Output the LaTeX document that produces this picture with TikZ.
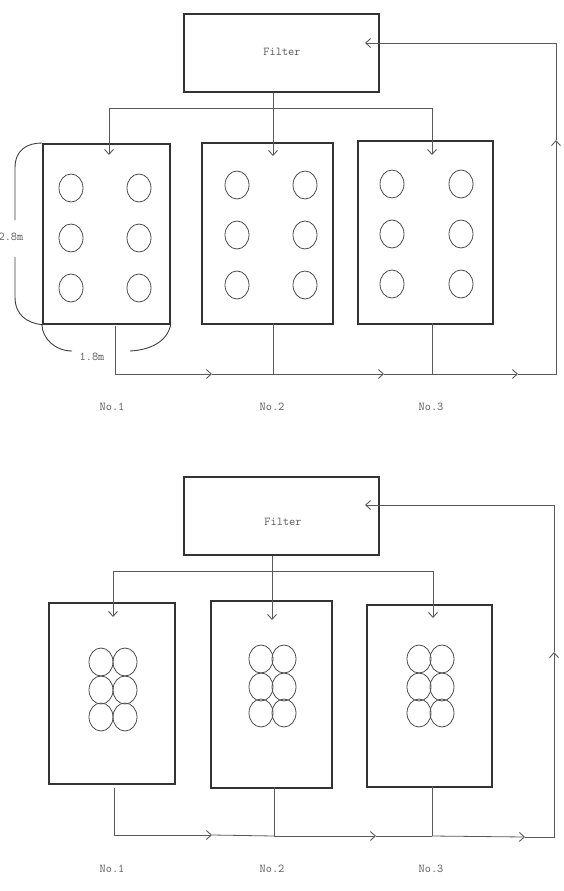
\documentclass[tikz,border=0pt]{standalone}
\usetikzlibrary{arrows.meta}
\begin{document}
\begin{tikzpicture}[x=1pt,y=-1pt,
  tank/.style={draw=black!80, line width=1.7pt, inner sep=0pt, anchor=north west},
  pipe/.style={draw=black!65, line width=0.8pt},
  arr/.style={pipe, -{Straight Barb[length=5pt,width=9pt,line width=0.9pt]}},
  hole/.style={draw=black!70, line width=0.8pt},
  dim/.style={draw=black!75, line width=0.9pt},
  lbl/.style={text=black!65, font=\fontsize{12}{14}\selectfont\ttfamily, inner sep=0pt}]
\useasboundingbox (0,0) rectangle (563,891);
\fill[white] (0,0) rectangle (563,891);

% ================= TOP SECTION =================
\node[tank, minimum width=195pt, minimum height=78pt] (F1) at (183,13) {};
\node[lbl] (F1t) at (282,52) {Filter};
\node[tank, minimum width=127pt, minimum height=180pt] (A1) at (42,143) {};
\node[tank, minimum width=131pt, minimum height=181pt] (A2) at (201,142) {};
\node[tank, minimum width=135pt, minimum height=183pt] (A3) at (357,140) {};

\foreach \cx/\cy in {71/188,139/188,71/238,139/238,71/288,139/288,
                     237/185,305/185,237/235,305/235,237/285,305/285,
                     392/184,461/184,392/234,461/234,392/284,461/284}
  \draw[hole] (\cx,\cy) ellipse [x radius=12pt, y radius=14pt];

% distribution
\coordinate (d1) at (109,108);
\coordinate (d2) at (273,108);
\coordinate (d3) at (432,108);
\coordinate (i1) at (109,155);
\coordinate (i2) at (273,156);
\coordinate (i3) at (432,155);
\draw[pipe] (d1) -- (d3);
\draw[arr] (d1) -- (i1);
\draw[arr] (F1.south -| d2) -- (i2);
\draw[arr] (d3) -- (i3);

% collection
\coordinate (o1) at (115,326);
\coordinate (o1b) at (115,374);
\coordinate (m1) at (212,374);
\coordinate (o2) at (273,323);
\coordinate (o2b) at (273,374);
\coordinate (m2) at (384,374);
\coordinate (o3) at (432,323);
\coordinate (o3b) at (432,374);
\coordinate (m3) at (518,374);
\coordinate (rb) at (556,374);
\coordinate (ru) at (556,140);
\coordinate (rt) at (556,43);
\coordinate (fi) at (365,43);
\draw[arr] (o1) -- (o1b) -- (m1);
\draw[pipe] (m1) -- (o2b);
\draw[pipe] (o2) -- (o2b);
\draw[arr] (o2b) -- (m2);
\draw[pipe] (m2) -- (o3b);
\draw[pipe] (o3) -- (o3b);
\draw[arr] (o3b) -- (m3);
\draw[arr] (m3) -- (rb) -- (ru);
\draw[arr] (ru) -- (rt) -- (fi);

% dimensions
\draw[dim] (A1.north west) .. controls (27,143) and (15,150) .. (15,168) -- (15,220);
\draw[dim] (15,257) -- (15,297) .. controls (15,315) and (27,323) .. (A1.south west);
\draw[dim] (A1.south west) .. controls (42,338) and (55,351) .. (72,351);
\draw[dim] (130,351) .. controls (150,350) and (167,342) .. (A1.south east);
\node[lbl] (L28) at (11,237) {2.8m};
\node[lbl] (L18) at (92,357) {1.8m};

\node[lbl] (N11) at (112,407) {No.1};
\node[lbl] (N12) at (272,407) {No.2};
\node[lbl] (N13) at (431,407) {No.3};

% ================= BOTTOM SECTION =================
\node[tank, minimum width=195pt, minimum height=78pt] (F2) at (183,476) {};
\node[lbl] (F2t) at (283,522) {Filter};
\node[tank, minimum width=126pt, minimum height=181pt] (B1) at (48,602) {};
\node[tank, minimum width=121pt, minimum height=187pt] (B2) at (210,600) {};
\node[tank, minimum width=125pt, minimum height=182pt] (B3) at (366,604) {};

\foreach \cx/\cy in {101/662,125/662,101/690,125/690,101/717,125/717,
                     261/659,284/659,261/687,284/687,261/713,284/713,
                     419/659,442/659,419/687,442/687,419/713,442/713}
  \draw[hole] (\cx,\cy) ellipse [x radius=12pt, y radius=14pt];

\coordinate (e1) at (113,571);
\coordinate (e2) at (272,571);
\coordinate (e3) at (433,571);
\coordinate (j1) at (113,617);
\coordinate (j2) at (272,620);
\coordinate (j3) at (433,618);
\draw[pipe] (e1) -- (e3);
\draw[arr] (e1) -- (j1);
\draw[arr] (F2.south -| e2) -- (j2);
\draw[arr] (e3) -- (j3);

\coordinate (p1) at (114,788);
\coordinate (p1b) at (114,835);
\coordinate (n1) at (212,835);
\coordinate (p2) at (274,787);
\coordinate (p2b) at (274,836);
\coordinate (n2) at (376,836);
\coordinate (p3) at (432,786);
\coordinate (p3b) at (432,836);
\coordinate (n3) at (525,837);
\coordinate (sb) at (554,837);
\coordinate (su) at (554,652);
\coordinate (st) at (554,505);
\coordinate (gi) at (365,505);
\draw[arr] (p1) -- (p1b) -- (n1);
\draw[pipe] (n1) -- (p2b);
\draw[pipe] (p2) -- (p2b);
\draw[arr] (p2b) -- (n2);
\draw[pipe] (n2) -- (p3b);
\draw[pipe] (p3) -- (p3b);
\draw[arr] (p3b) -- (n3);
\draw[arr] (n3) -- (sb) -- (su);
\draw[arr] (su) -- (st) -- (gi);

\node[lbl] (N21) at (112,869) {No.1};
\node[lbl] (N22) at (272,869) {No.2};
\node[lbl] (N23) at (431,869) {No.3};
\end{tikzpicture}
\end{document}
